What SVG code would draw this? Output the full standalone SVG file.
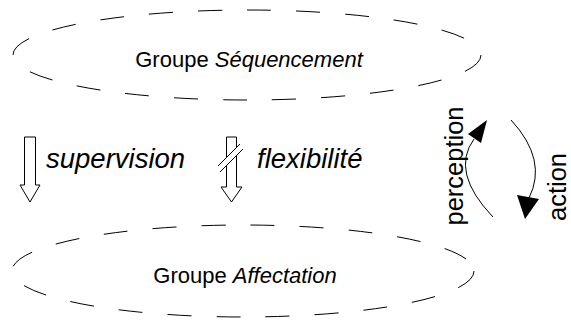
<svg xmlns="http://www.w3.org/2000/svg" width="571" height="322" viewBox="0 0 571 322">
<style>
.grp{fill:none;stroke:#000;stroke-width:1;stroke-dasharray:24 25}
.lbl{font-family:"Liberation Sans",Arial,sans-serif;font-size:22px;fill:#000}
.side{font-family:"Liberation Sans",Arial,sans-serif;font-size:27.5px;fill:#000}
.rot{font-family:"Liberation Sans",Arial,sans-serif;font-size:25.5px;fill:#000}
.blk{fill:#fff;stroke:#000;stroke-width:1}
.arc{fill:none;stroke:#000;stroke-width:1}
.head{fill:#000;stroke:none}
</style>
<rect width="571" height="322" fill="#fff"/>
<g id="sequencement">
<ellipse class="grp" cx="247" cy="55" rx="234" ry="45"/>
<text class="lbl" x="249" y="67" text-anchor="middle">Groupe <tspan font-style="italic">Séquencement</tspan></text>
</g>
<g id="affectation">
<ellipse class="grp" cx="243" cy="271" rx="231" ry="46"/>
<text class="lbl" x="245" y="283" text-anchor="middle">Groupe <tspan font-style="italic">Affectation</tspan></text>
</g>
<g id="connectors">
<g id="supervision">
<polygon class="blk" points="24.5,137 35.5,137 35.5,185 40,185 30,202 20,185 24.5,185"/>
<text class="side" x="46" y="168" font-style="italic">supervision</text>
</g>
<g id="flexibilite">
<polygon class="blk" points="226.5,137 236.5,137 236.5,187 242,187 231.5,202 221,187 226.5,187"/>
<polygon points="218,166 240,144 243,149 220,172" fill="#fff" stroke="none"/>
<line class="arc" x1="218" y1="166" x2="240" y2="144"/>
<line class="arc" x1="220" y1="172" x2="243" y2="149"/>
<text class="side" x="257" y="168" font-style="italic">flexibilité</text>
</g>
<g id="perception">
<path class="arc" d="M493,217 Q450,172 474,139"/>
<polygon class="head" points="487,120 468,134 481,143"/>
<text class="rot" transform="translate(463,166) rotate(-90)" text-anchor="middle">perception</text>
</g>
<g id="action">
<path class="arc" d="M511,120 Q548,160 529,198"/>
<polygon class="head" points="525,219 517,195 539,199"/>
<text class="rot" transform="translate(566,187) rotate(-90)" text-anchor="middle">action</text>
</g>
</g>
</svg>
